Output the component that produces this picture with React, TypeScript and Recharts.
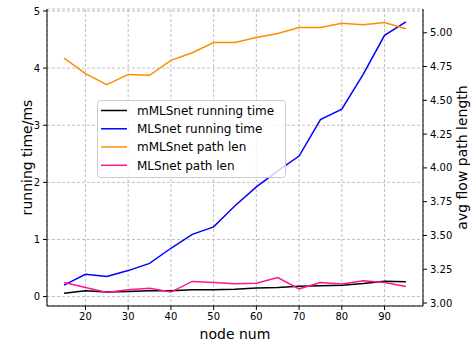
import React from 'react';
import { LineChart, Line, XAxis, YAxis, CartesianGrid, Legend } from 'recharts';

const nodeNum = [15, 20, 25, 30, 35, 40, 45, 50, 55, 60, 65, 70, 75, 80, 85, 90, 95];
const mmlsTime = [0.06, 0.1, 0.08, 0.09, 0.1, 0.1, 0.12, 0.12, 0.13, 0.15, 0.16, 0.18, 0.19, 0.2, 0.23, 0.27, 0.26];
const mlsTime = [0.2, 0.39, 0.35, 0.455, 0.58, 0.846, 1.09, 1.22, 1.59, 1.92, 2.2, 2.46, 3.1, 3.28, 3.89, 4.575, 4.81];
const mmlsPath = [4.813, 4.697, 4.616, 4.692, 4.685, 4.796, 4.852, 4.928, 4.928, 4.965, 4.995, 5.039, 5.039, 5.07, 5.06, 5.076, 5.03];
const mlsPath = [3.152, 3.115, 3.078, 3.098, 3.11, 3.081, 3.16, 3.152, 3.142, 3.147, 3.189, 3.105, 3.152, 3.14, 3.165, 3.152, 3.122];

const xTicks = [20, 30, 40, 50, 60, 70, 80, 90];
const leftTicks = [0, 1, 2, 3, 4, 5];
const rightTicks = [3, 3.25, 3.5, 3.75, 4, 4.25, 4.5, 4.75, 5];

const seriesNames = ['mMLSnet running time', 'MLSnet running time', 'mMLSnet path len', 'MLSnet path len'];
const seriesColors = ['#000000', '#0000ff', '#ff8c00', '#ff1493'];

const data = nodeNum.map((x, i) => ({
  x,
  a: mmlsTime[i],
  b: mlsTime[i],
  c: mmlsPath[i],
  d: mlsPath[i],
}));

const FONT = 'DejaVu Sans, sans-serif';
const tickStyle = { fontSize: 10, fill: '#000', fontFamily: FONT };

const XLabel = (props: any) => {
  const vb = props.viewBox || {};
  return (
    <text x={vb.x + vb.width / 2} y={339} textAnchor="middle" fontSize={14} fontFamily={FONT} fill="#000">
      node num
    </text>
  );
};

const LeftLabel = () => {
  const cy = 157.5;
  return (
    <text x={32} y={cy} transform={`rotate(-90, 32, ${cy})`} textAnchor="middle" fontSize={14} fontFamily={FONT} fill="#000">
      running time/ms
    </text>
  );
};

const RightLabel = () => {
  const cy = 157.5;
  return (
    <text x={467} y={cy} transform={`rotate(-90, 467, ${cy})`} textAnchor="middle" fontSize={14} fontFamily={FONT} fill="#000">
      avg flow path length
    </text>
  );
};

const LegendBox = () => {
  const rowY = [10.5, 28.8, 47, 65.3];
  return (
    <svg width={189} height={78} style={{ display: 'block' }}>
      <rect x={0.5} y={0.5} width={188} height={77} rx={3} ry={3} fill="rgba(255,255,255,0.8)" stroke="#cccccc" strokeWidth={1} />
      {seriesNames.map((n, i) => (
        <g key={n}>
          <line x1={4} x2={30} y1={rowY[i]} y2={rowY[i]} stroke={seriesColors[i]} strokeWidth={1.5} />
          <text x={40} y={rowY[i] + 4.3} fontSize={12} fontFamily={FONT} fill="#000">
            {n}
          </text>
        </g>
      ))}
    </svg>
  );
};

export default function App() {
  return (
    <div style={{ position: 'absolute', left: 0, top: 0, width: 474, height: 343, background: '#fff' }}>
      <LineChart width={474} height={343} data={data} margin={{ top: 9, right: 0, bottom: 0, left: 0 }}>
        <CartesianGrid yAxisId="left" stroke="#b0b0b0" strokeDasharray="3 2" strokeWidth={0.8} />
        <XAxis
          dataKey="x"
          type="number"
          domain={[11, 99]}
          ticks={xTicks}
          height={37}
          tick={tickStyle}
          tickSize={4}
          tickMargin={3}
          axisLine={{ stroke: '#000' }}
          tickLine={{ stroke: '#000' }}
          allowDataOverflow
          label={<XLabel />}
        />
        <XAxis
          xAxisId="top"
          dataKey="x"
          type="number"
          orientation="top"
          domain={[11, 99]}
          height={0}
          tick={false}
          tickLine={false}
          axisLine={{ stroke: '#000' }}
        />
        <YAxis
          yAxisId="left"
          type="number"
          domain={[-0.165, 5.035]}
          ticks={leftTicks}
          width={47}
          tick={tickStyle}
          tickSize={4}
          tickMargin={3}
          axisLine={{ stroke: '#000' }}
          tickLine={{ stroke: '#000' }}
          allowDataOverflow
          label={<LeftLabel />}
        />
        <YAxis
          yAxisId="right"
          orientation="right"
          type="number"
          domain={[2.978, 5.176]}
          ticks={rightTicks}
          width={51}
          tick={tickStyle}
          tickSize={4}
          tickMargin={3}
          tickFormatter={(v: number) => v.toFixed(2)}
          axisLine={{ stroke: '#000' }}
          tickLine={{ stroke: '#000' }}
          allowDataOverflow
          label={<RightLabel />}
        />
        <Line yAxisId="left" dataKey="a" name={seriesNames[0]} stroke={seriesColors[0]} strokeWidth={1.5} dot={false} isAnimationActive={false} />
        <Line yAxisId="left" dataKey="b" name={seriesNames[1]} stroke={seriesColors[1]} strokeWidth={1.5} dot={false} isAnimationActive={false} />
        <Line yAxisId="right" dataKey="c" name={seriesNames[2]} stroke={seriesColors[2]} strokeWidth={1.5} dot={false} isAnimationActive={false} />
        <Line yAxisId="right" dataKey="d" name={seriesNames[3]} stroke={seriesColors[3]} strokeWidth={1.5} dot={false} isAnimationActive={false} />
        <Legend
          layout="vertical"
          align="center"
          verticalAlign="middle"
          content={<LegendBox />}
          wrapperStyle={{ position: 'absolute', left: 97, top: 100, width: 189, height: 78, bottom: 'auto', right: 'auto', margin: 0 }}
        />
      </LineChart>
    </div>
  );
}
